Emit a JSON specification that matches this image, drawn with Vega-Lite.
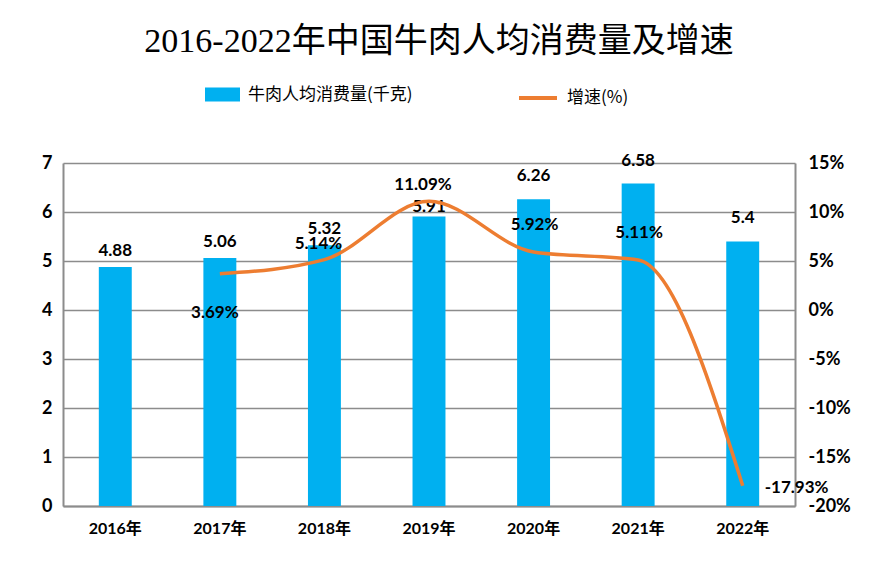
{
  "$schema": "https://vega.github.io/schema/vega-lite/v6.json",
  "width": 732,
  "height": 343,
  "autosize": {"type": "none"},
  "padding": {"left": 63, "top": 163, "right": 86, "bottom": 67},
  "background": "white",
  "title": {
    "text": "2016-2022年中国牛肉人均消费量及增速",
    "font": "Liberation Serif, Noto Sans CJK SC",
    "fontSize": 34,
    "fontWeight": "normal",
    "color": "#000000",
    "anchor": "middle",
    "baseline": "alphabetic",
    "offset": -9,
    "dx": 10
  },
  "config": {
    "view": {"stroke": null},
    "locale": {"number": {"decimal": ".", "thousands": ",", "grouping": [3], "currency": ["$", ""], "minus": "-"}},
    "axis": {"labelFont": "Lato, Noto Sans CJK SC", "labelFontWeight": "bold", "labelColor": "#000000", "ticks": false, "domainColor": "#8c8c8c", "domainWidth": 2, "gridColor": "#8c8c8c", "gridWidth": 1.5, "title": null},
    "legend": {"labelFont": "Noto Sans CJK SC", "labelFontSize": 17, "labelColor": "#000000", "labelLimit": 0, "padding": 0, "labelOffset": 8, "title": null}
  },
  "data": {
    "values": [
      {"year": "2016年", "consumption": 4.88, "growth": null},
      {"year": "2017年", "consumption": 5.06, "growth": 0.0369},
      {"year": "2018年", "consumption": 5.32, "growth": 0.0514},
      {"year": "2019年", "consumption": 5.91, "growth": 0.1109},
      {"year": "2020年", "consumption": 6.26, "growth": 0.0592},
      {"year": "2021年", "consumption": 6.58, "growth": 0.0511},
      {"year": "2022年", "consumption": 5.4, "growth": -0.1793}
    ]
  },
  "encoding": {
    "x": {
      "field": "year",
      "type": "nominal",
      "sort": null,
      "scale": {"paddingInner": 0, "paddingOuter": 0},
      "axis": {"labelAngle": 0, "labelFontSize": 16, "labelPadding": 14, "domain": true, "grid": false}
    }
  },
  "layer": [
    {
      "encoding": {
        "y": {
          "field": "consumption",
          "type": "quantitative",
          "scale": {"domain": [0, 7], "nice": false, "zero": true},
          "axis": {"orient": "left", "values": [0, 1, 2, 3, 4, 5, 6, 7], "grid": true, "labelFontSize": 18, "labelPadding": 11}
        }
      },
      "layer": [
        {
          "mark": {"type": "bar", "width": {"band": 0.315}},
          "encoding": {
            "color": {
              "datum": "牛肉人均消费量(千克)",
              "type": "nominal",
              "scale": {"range": ["#00B0F0"]},
              "legend": {"orient": "none", "legendX": 142, "legendY": -86, "symbolType": "M-1,-0.4H1V0.4H-1Z", "symbolSize": 1225, "symbolOpacity": 1, "symbolStrokeWidth": 0}
            }
          }
        },
        {
          "transform": [{"filter": {"field": "year", "oneOf": ["2016年", "2017年", "2018年"]}}],
          "mark": {"type": "text", "font": "Lato", "fontWeight": "bold", "fontSize": 17, "color": "#000000", "baseline": "middle", "dy": -16},
          "encoding": {"text": {"field": "consumption", "type": "quantitative"}}
        },
        {
          "transform": [{"filter": {"field": "year", "oneOf": ["2019年"]}}],
          "mark": {"type": "text", "font": "Lato", "fontWeight": "bold", "fontSize": 17, "color": "#000000", "baseline": "middle", "dy": -9},
          "encoding": {"text": {"field": "consumption", "type": "quantitative"}}
        },
        {
          "transform": [{"filter": {"field": "year", "oneOf": ["2020年", "2021年", "2022年"]}}],
          "mark": {"type": "text", "font": "Lato", "fontWeight": "bold", "fontSize": 17, "color": "#000000", "baseline": "middle", "dy": -23},
          "encoding": {"text": {"field": "consumption", "type": "quantitative"}}
        }
      ]
    },
    {
      "transform": [{"filter": "datum.growth != null"}],
      "encoding": {
        "y": {
          "field": "growth",
          "type": "quantitative",
          "scale": {"domain": [-0.2, 0.15], "nice": false, "zero": false},
          "axis": {"orient": "right", "values": [-0.2, -0.15, -0.1, -0.05, 0, 0.05, 0.1, 0.15], "format": ".0%", "grid": false, "labelFontSize": 18, "labelPadding": 13}
        }
      },
      "layer": [
        {
          "mark": {"type": "line", "interpolate": "monotone", "strokeWidth": 3.5},
          "encoding": {
            "stroke": {
              "datum": "增速(%)",
              "type": "nominal",
              "scale": {"range": ["#ED7D31"]},
              "legend": {"orient": "none", "legendX": 454, "legendY": -86, "symbolType": "stroke", "symbolSize": 1444, "symbolStrokeWidth": 4}
            }
          }
        },
        {
          "transform": [{"filter": {"field": "year", "oneOf": ["2017年"]}}],
          "mark": {"type": "text", "font": "Lato", "fontWeight": "bold", "fontSize": 17, "color": "#000000", "baseline": "middle", "dx": -5, "dy": 39},
          "encoding": {"text": {"field": "growth", "type": "quantitative", "format": ".2%"}}
        },
        {
          "transform": [{"filter": {"field": "year", "oneOf": ["2018年", "2019年"]}}],
          "mark": {"type": "text", "font": "Lato", "fontWeight": "bold", "fontSize": 17, "color": "#000000", "baseline": "middle", "dx": -6, "dy": -16},
          "encoding": {"text": {"field": "growth", "type": "quantitative", "format": ".2%"}}
        },
        {
          "transform": [{"filter": {"field": "year", "oneOf": ["2020年", "2021年"]}}],
          "mark": {"type": "text", "font": "Lato", "fontWeight": "bold", "fontSize": 17, "color": "#000000", "baseline": "middle", "dx": 1, "dy": -27},
          "encoding": {"text": {"field": "growth", "type": "quantitative", "format": ".2%"}}
        },
        {
          "transform": [{"filter": {"field": "year", "oneOf": ["2022年"]}}],
          "mark": {"type": "text", "font": "Lato", "fontWeight": "bold", "fontSize": 17, "color": "#000000", "baseline": "middle", "align": "left", "dx": 22, "dy": 2},
          "encoding": {"text": {"field": "growth", "type": "quantitative", "format": ".2%"}}
        }
      ]
    }
  ],
  "resolve": {"scale": {"y": "independent"}}
}
